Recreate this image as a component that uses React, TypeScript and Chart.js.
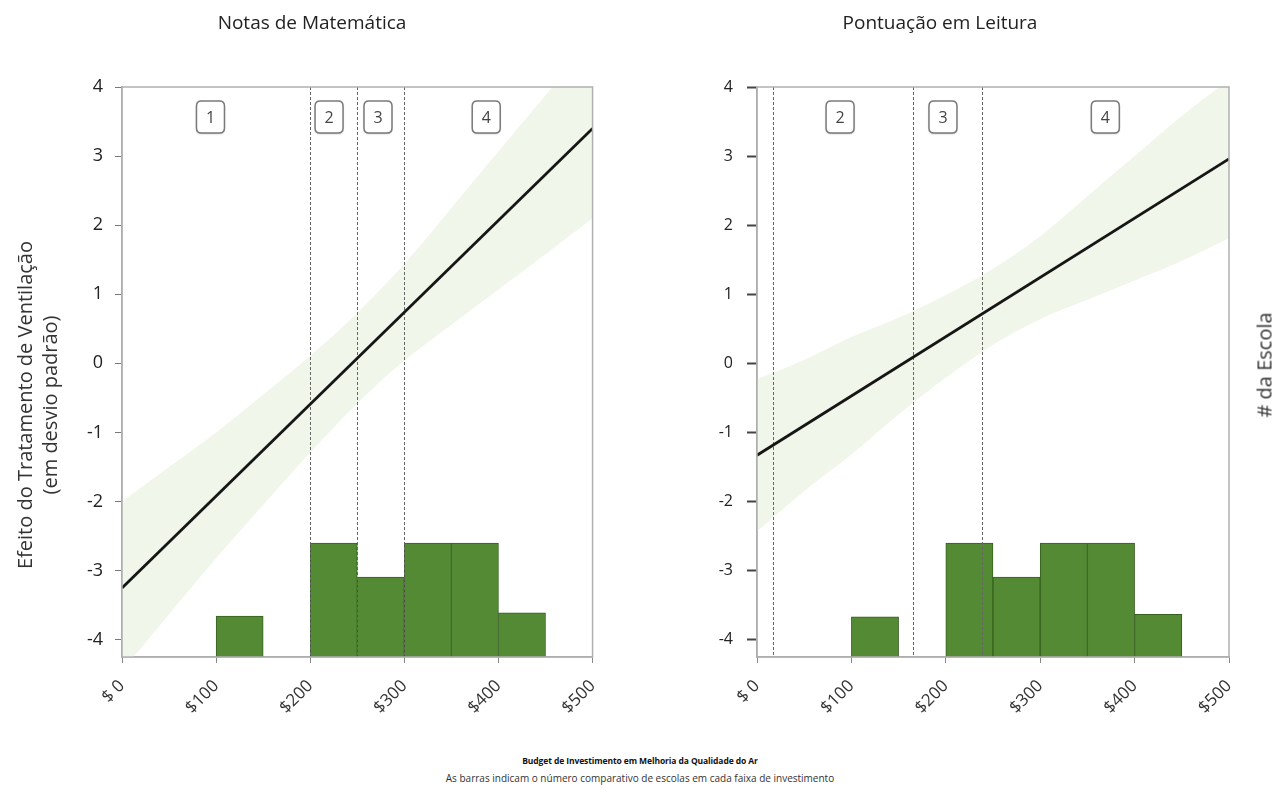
import React, { useEffect, useRef } from "react";
import { Chart, registerables } from "chart.js";

Chart.register(...registerables);

// ---------- data ----------
const xTickValues = [0, 100, 200, 300, 400, 500];
const xTickLabels = ["$ 0", "$100", "$200", "$300", "$400", "$500"];
const yTickValues = [-4, -3, -2, -1, 0, 1, 2, 3, 4];

const binCenters = [125, 225, 275, 325, 375, 425];
const mathCounts = [1.08, 3, 2.1, 3, 3, 1.16];
const readCounts = [1.06, 3, 2.1, 3, 3, 1.12];

const fitX = [0, 500];
const mathFit = [-3.25, 3.4];
const readFit = [-1.33, 2.96];

const bandX = [0, 50, 100, 150, 200, 250, 300, 350, 400, 450, 500];
const mathUpper = [-2.0, -1.5, -1.0, -0.45, 0.11, 0.73, 1.44, 2.25, 3.07, 3.88, 4.7];
const mathLower = [-4.45, -3.63, -2.82, -2.05, -1.29, -0.58, 0.04, 0.56, 1.07, 1.58, 2.1];
const readUpper = [-0.23, 0.05, 0.38, 0.66, 0.99, 1.37, 1.84, 2.42, 3.0, 3.58, 4.11];
const readLower = [-2.43, -1.85, -1.32, -0.74, -0.21, 0.27, 0.64, 0.92, 1.2, 1.48, 1.81];

const mathCuts = [200, 250, 300];
const readCuts = [17, 165, 238];
const mathRegionLabels = ["1", "2", "3", "4"];
const mathRegionX = [94, 220, 272, 387];
const readRegionLabels = ["2", "3", "4"];
const readRegionX = [88, 197, 369];

const FONT = "'Open Sans', 'Noto Sans', sans-serif";

function roundRect(ctx: CanvasRenderingContext2D, x: number, y: number, w: number, h: number, r: number) {
  ctx.beginPath();
  ctx.moveTo(x + r, y);
  ctx.lineTo(x + w - r, y);
  ctx.quadraticCurveTo(x + w, y, x + w, y + r);
  ctx.lineTo(x + w, y + h - r);
  ctx.quadraticCurveTo(x + w, y + h, x + w - r, y + h);
  ctx.lineTo(x + r, y + h);
  ctx.quadraticCurveTo(x, y + h, x, y + h - r);
  ctx.lineTo(x, y + r);
  ctx.quadraticCurveTo(x, y, x + r, y);
  ctx.closePath();
}

function makeDecor(cuts: number[], labels: string[], labelX: number[]) {
  return {
    id: "decor",
    afterDatasetDraw(chart: any, args: any) {
      if (args.index !== 1) return;
      const { ctx, chartArea, scales } = chart;
      ctx.save();
      ctx.strokeStyle = "#666";
      ctx.lineWidth = 1;
      ctx.setLineDash([3, 2]);
      cuts.forEach((c) => {
        const px = Math.round(scales.x.getPixelForValue(c)) + 0.5;
        ctx.beginPath();
        ctx.moveTo(px, chartArea.top);
        ctx.lineTo(px, chartArea.bottom);
        ctx.stroke();
      });
      ctx.restore();
    },
    afterDatasetsDraw(chart: any) {
      const { ctx, chartArea, scales } = chart;
      ctx.save();
      // frame
      ctx.strokeStyle = "#b0b0b0";
      ctx.lineWidth = 1.5;
      ctx.strokeRect(chartArea.left, chartArea.top, chartArea.right - chartArea.left, chartArea.bottom - chartArea.top);
      // region boxes
      const w = 28;
      const h = 32;
      const cy = chartArea.top + 30;
      labels.forEach((lab, i) => {
        const cx = scales.x.getPixelForValue(labelX[i]);
        ctx.shadowColor = "rgba(0,0,0,0.25)";
        ctx.shadowBlur = 2;
        ctx.shadowOffsetY = 1;
        roundRect(ctx, cx - w / 2, cy - h / 2, w, h, 5);
        ctx.fillStyle = "#fff";
        ctx.fill();
        ctx.shadowColor = "transparent";
        ctx.strokeStyle = "#7a7a7a";
        ctx.lineWidth = 1.5;
        ctx.stroke();
        ctx.fillStyle = "#444";
        ctx.font = `16px ${FONT}`;
        ctx.textAlign = "center";
        ctx.textBaseline = "middle";
        ctx.fillText(lab, cx, cy + 1);
      });
      ctx.restore();
    },
  };
}

interface PanelProps {
  counts: number[];
  fit: number[];
  upper: number[];
  lower: number[];
  cuts: number[];
  labels: string[];
  labelX: number[];
  width: number;
  height: number;
  yAxisWidth: number;
  rightPad: number;
  yFontSize: number;
  yTickLength: number;
  yTickWidth: number;
  yTickColor: string;
  yPadding: number;
}

function Panel(p: PanelProps) {
  const ref = useRef<HTMLCanvasElement>(null);
  useEffect(() => {
    if (!ref.current) return;
    const chart = new Chart(ref.current, {
      type: "bar",
      data: {
        datasets: [
          {
            type: "line",
            data: fitX.map((x, i) => ({ x, y: p.fit[i] })),
            borderColor: "#161616",
            borderWidth: 2.8,
            pointRadius: 0,
            fill: false,
            order: 1,
            yAxisID: "y",
          } as any,
          {
            type: "bar",
            data: binCenters.map((x, i) => ({ x, y: p.counts[i] })),
            backgroundColor: "#538a33",
            borderColor: "#36601f",
            borderWidth: 1,
            barPercentage: 1,
            categoryPercentage: 1,
            order: 2,
            yAxisID: "y2",
          } as any,
          {
            type: "line",
            data: bandX.map((x, i) => ({ x, y: p.lower[i] })),
            borderWidth: 0,
            borderColor: "rgba(0,0,0,0)",
            pointRadius: 0,
            fill: false,
            cubicInterpolationMode: "monotone",
            order: 3,
            yAxisID: "y",
          } as any,
          {
            type: "line",
            data: bandX.map((x, i) => ({ x, y: p.upper[i] })),
            borderWidth: 0,
            borderColor: "rgba(0,0,0,0)",
            backgroundColor: "#f1f6ea",
            pointRadius: 0,
            fill: "-1",
            cubicInterpolationMode: "monotone",
            order: 4,
            yAxisID: "y",
          } as any,
        ],
      },
      options: {
        animation: false,
        responsive: false,
        maintainAspectRatio: false,
        events: [],
        layout: { padding: { top: 87, right: p.rightPad, left: 0, bottom: 0 } },
        plugins: { legend: { display: false }, tooltip: { enabled: false }, title: { display: false } },
        scales: {
          x: {
            type: "linear",
            min: 0,
            max: 500,
            offset: false,
            afterBuildTicks: (s: any) => {
              s.ticks = xTickValues.map((v) => ({ value: v }));
            },
            afterFit: (s: any) => {
              s.height = p.height - 657;
            },
            grid: { display: true, drawOnChartArea: false, offset: false, tickLength: 6, color: "#888", tickColor: "#888" },
            border: { display: true, color: "#a8a8a8", width: 1.5 },
            ticks: {
              minRotation: 45,
              maxRotation: 45,
              autoSkip: false,
              padding: 13,
              color: "#333",
              font: { family: FONT, size: 17 },
              callback: (v: any) => {
                const i = xTickValues.indexOf(Number(v));
                return i >= 0 ? xTickLabels[i] : "";
              },
            },
          },
          y: {
            type: "linear",
            position: "left",
            min: -4.25,
            max: 4,
            afterBuildTicks: (s: any) => {
              s.ticks = yTickValues.map((v) => ({ value: v }));
            },
            afterFit: (s: any) => {
              s.width = p.yAxisWidth;
            },
            grid: {
              display: true,
              drawOnChartArea: false,
              tickLength: p.yTickLength,
              tickWidth: p.yTickWidth,
              tickColor: p.yTickColor,
              color: p.yTickColor,
            },
            border: { display: true, color: "#a8a8a8", width: 1.5 },
            ticks: {
              padding: p.yPadding,
              color: "#222",
              font: { family: FONT, size: p.yFontSize },
              callback: (v: any) => String(v),
            },
          },
          y2: {
            type: "linear",
            display: false,
            min: 0,
            max: 15,
          },
        },
      } as any,
      plugins: [makeDecor(p.cuts, p.labels, p.labelX) as any],
    });
    return () => chart.destroy();
  }, []);
  return <canvas ref={ref} width={p.width} height={p.height} style={{ width: p.width, height: p.height, display: "block" }} />;
}

export default function App() {
  const textBase: React.CSSProperties = { position: "absolute", fontFamily: FONT, whiteSpace: "nowrap", color: "#222" };
  return (
    <div style={{ position: "absolute", left: 0, top: 0, width: 1277, height: 796, background: "#fff", overflow: "hidden" }}>
      <div style={{ position: "absolute", left: 0, top: 0 }}>
        <Panel
          counts={mathCounts}
          fit={mathFit}
          upper={mathUpper}
          lower={mathLower}
          cuts={mathCuts}
          labels={mathRegionLabels}
          labelX={mathRegionX}
          width={620}
          height={720}
          yAxisWidth={122}
          rightPad={27}
          yFontSize={18}
          yTickLength={7}
          yTickWidth={1}
          yTickColor="#777"
          yPadding={12}
        />
      </div>
      <div style={{ position: "absolute", left: 640, top: 0 }}>
        <Panel
          counts={readCounts}
          fit={readFit}
          upper={readUpper}
          lower={readLower}
          cuts={readCuts}
          labels={readRegionLabels}
          labelX={readRegionX}
          width={637}
          height={720}
          yAxisWidth={117}
          rightPad={48}
          yFontSize={16}
          yTickLength={10}
          yTickWidth={2}
          yTickColor="#444"
          yPadding={14}
        />
      </div>
      <div style={{ ...textBase, left: 312, top: 22, transform: "translate(-50%,-50%)", fontSize: 19 }}>Notas de Matemática</div>
      <div style={{ ...textBase, left: 940, top: 22, transform: "translate(-50%,-50%)", fontSize: 19 }}>Pontuação em Leitura</div>
      <div
        style={{
          ...textBase,
          left: 37,
          top: 405,
          transform: "translate(-50%,-50%) rotate(-90deg)",
          fontSize: 20,
          lineHeight: "25px",
          textAlign: "center",
          color: "#333",
        }}
      >
        Efeito do Tratamento de Ventilação
        <br />
        (em desvio padrão)
      </div>
      <div
        style={{
          ...textBase,
          left: 1264,
          top: 365,
          transform: "translate(-50%,-50%) rotate(-90deg)",
          fontSize: 20,
          color: "#333",
        }}
      >
        # da Escola
      </div>
      <div
        style={{
          ...textBase,
          left: 640,
          top: 760,
          transform: "translate(-50%,-50%)",
          fontSize: 8.5,
          fontWeight: 700,
          letterSpacing: "-0.1px",
          color: "#111",
        }}
      >
        Budget de Investimento em Melhoria da Qualidade do Ar
      </div>
      <div style={{ ...textBase, left: 640, top: 778, transform: "translate(-50%,-50%)", fontSize: 10, color: "#333" }}>
        As barras indicam o número comparativo de escolas em cada faixa de investimento
      </div>
    </div>
  );
}
